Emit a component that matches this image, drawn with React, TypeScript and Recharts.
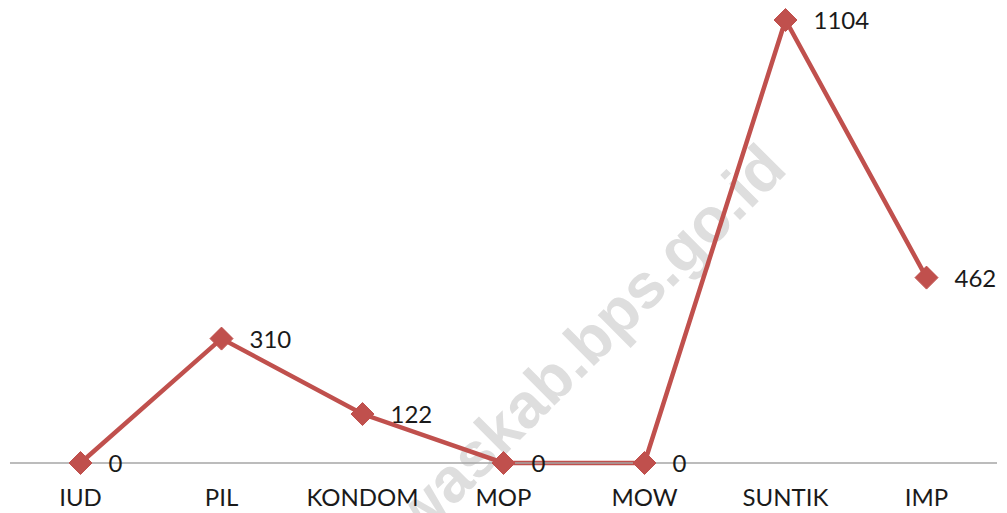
import React from "react";
import { LineChart, Line, XAxis, YAxis, LabelList } from "recharts";

const categories = ["IUD", "PIL", "KONDOM", "MOP", "MOW", "SUNTIK", "IMP"];
const values = [0, 310, 122, 0, 0, 1104, 462];
const watermark = "waskab.bps.go.id";

const data = categories.map((name, i) => ({ name, value: values[i] }));

const RED = "#C0504D";
const FONT = "Lato, 'Open Sans', sans-serif";

const Diamond = (props: any) => {
  const { cx, cy } = props;
  if (cx == null || cy == null) return null;
  const r = 11.5;
  return (
    <polygon
      points={`${cx},${cy - r} ${cx + r},${cy} ${cx},${cy + r} ${cx - r},${cy}`}
      fill={RED}
      stroke={RED}
      strokeWidth={1}
    />
  );
};

const ValueLabel = (props: any) => {
  const { x, y, value } = props;
  return (
    <text
      x={x + 28}
      y={y + 3}
      fill="#1a1a1a"
      fontSize={24}
      fontFamily={FONT}
      textAnchor="start"
      dominantBaseline="middle"
    >
      {value}
    </text>
  );
};

export default function App() {
  return (
    <div style={{ position: "absolute", left: 0, top: 0, width: 1007, height: 513, background: "#fff" }}>
      <svg
        width={1007}
        height={513}
        style={{ position: "absolute", left: 0, top: 0 }}
      >
        <text
          x={789}
          y={171}
          textAnchor="end"
          transform="rotate(-45 789 171)"
          fontFamily="'Liberation Sans', Arial, sans-serif"
          fontWeight="bold"
          fontSize={63}
          fill="#dedede"
        >
          {watermark}
        </text>
      </svg>
      <div style={{ position: "absolute", left: 0, top: 0 }}>
        <LineChart
          width={1007}
          height={513}
          data={data}
          margin={{ top: 20, right: 10, left: 10, bottom: 0 }}
        >
          <XAxis
            dataKey="name"
            height={50}
            padding={{ left: 70.5, right: 70.5 }}
            axisLine={{ stroke: "#a6a6a6", strokeWidth: 1.5 }}
            tickLine={false}
            tickSize={0}
            tickMargin={26}
            tick={{ fill: "#1a1a1a", fontSize: 24, fontFamily: FONT }}
            interval={0}
          />
          <YAxis hide domain={[0, 1104]} />
          <Line
            type="linear"
            dataKey="value"
            stroke={RED}
            strokeWidth={4.5}
            dot={<Diamond />}
            activeDot={false}
            isAnimationActive={false}
          >
            <LabelList dataKey="value" content={<ValueLabel />} />
          </Line>
        </LineChart>
      </div>
    </div>
  );
}
